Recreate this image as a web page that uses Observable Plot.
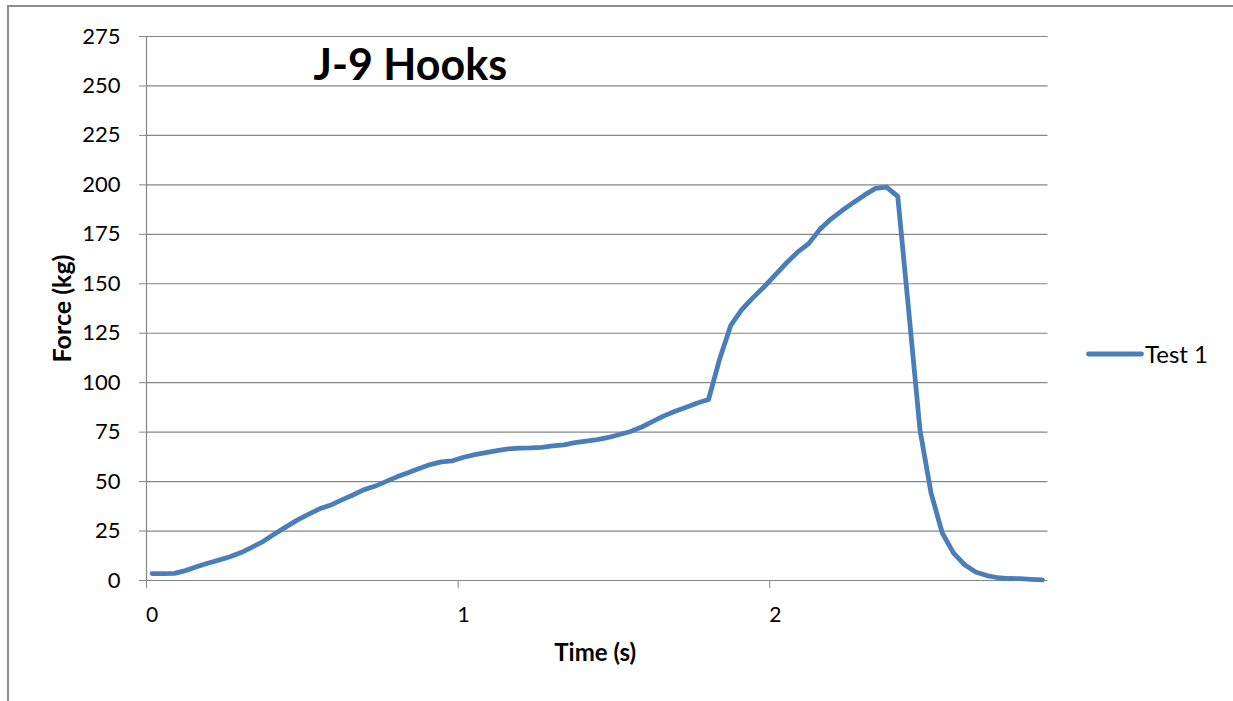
<!DOCTYPE html>
<html><head><meta charset="utf-8">
<script src="https://cdn.jsdelivr.net/npm/d3@7"></script>
<script src="https://cdn.jsdelivr.net/npm/@observablehq/plot@0.6"></script>
<style>
html,body{margin:0;padding:0;background:#fff;}
#wrap{position:relative;width:1233px;height:701px;overflow:hidden;font-family:Lato,"Open Sans",sans-serif;}
#border{position:absolute;left:7px;top:5px;width:1300px;height:800px;border-left:2px solid #8c8c8c;border-top:2px solid #8c8c8c;}
#chart{position:absolute;left:0;top:0;}
#legend{position:absolute;left:1086px;top:340px;display:flex;align-items:center;font-size:24px;color:#000;line-height:28px;}
#legend svg{margin-right:1px;}
</style></head><body>
<div id="wrap"><div id="border"></div><div id="chart"></div><div id="legend"></div></div>
<script>
// Force (kg) samples
const force = [
  3.5, 3.5, 3.6, 5.0, 6.9, 8.7, 10.3, 12.0, 14.1, 16.9,
  19.8, 23.5, 27.0, 30.4, 33.3, 36.1, 38.0, 40.6, 43.1, 45.8,
  47.6, 50.0, 52.4, 54.5, 56.6, 58.6, 60.0, 60.5, 62.3, 63.6,
  64.6, 65.7, 66.5, 66.9, 67.0, 67.3, 68.0, 68.6, 69.7, 70.5,
  71.2, 72.3, 73.8, 75.3, 77.6, 80.4, 83.2, 85.6, 87.6, 89.7,
  91.5, 112, 129, 137, 143, 148.5, 154.5, 160.5, 166, 170.3,
  177.5, 182.7, 187, 191, 194.8, 198.2, 198.9, 194.2, 135.5, 76,
  44, 24, 14, 8, 4.3, 2.5, 1.4, 1.0, 0.9, 0.6, 0.3
];
const sampleRate = 28;            // samples per second
const xTicks = [0, 1, 2];         // time tick labels (s)
const yTicks = [0, 25, 50, 75, 100, 125, 150, 175, 200, 225, 250, 275];
const seriesName = "Test 1";
const title = "J-9 Hooks";
const xLabel = "Time (s)";
const yLabel = "Force (kg)";

const data = force.map((f, i) => ({time: i / sampleRate, force: f}));
const half = 0.5 / sampleRate;
const tickMarks = xTicks.map(t => t - half);
const gridColor = "#868686";
const lineColor = "#4a7ebb";

const chart = Plot.plot({
  width: 1233, height: 701,
  marginLeft: 146, marginRight: 185.5, marginTop: 36, marginBottom: 121,
  style: {fontFamily: "Lato, 'Open Sans', sans-serif", fontSize: "21px", color: "#000", background: "transparent"},
  x: {domain: [-half, (force.length - 0.5) / sampleRate]},
  y: {domain: [0, 275]},
  marks: [
    Plot.gridY(yTicks, {stroke: gridColor, strokeOpacity: 1, strokeWidth: 1.2}),
    Plot.axisY(yTicks, {tickSize: 7, tickPadding: 19, stroke: gridColor, strokeOpacity: 1, label: null, fontSize: 22}),
    Plot.ruleX([-half], {stroke: gridColor, strokeWidth: 1.2}),
    Plot.axisX(tickMarks, {tickSize: 8, tickFormat: () => "", stroke: gridColor, strokeOpacity: 1, label: null}),
    Plot.axisX(xTicks, {tickSize: 0, tickPadding: 27, label: null, tickFormat: d => String(d), fontSize: 21}),
    Plot.line(data, {x: "time", y: "force", stroke: lineColor, strokeWidth: 4.8, strokeLinejoin: "round", strokeLinecap: "round"}),
    Plot.text([title], {frameAnchor: "top", dx: -187, dy: 43, lineAnchor: "bottom", fontSize: 43, fontWeight: "bold"}),
    Plot.text([yLabel], {frameAnchor: "left", textAnchor: "middle", rotate: -90, dx: -84, fontWeight: "bold", fontSize: 25}),
    Plot.text([xLabel], {frameAnchor: "bottom", textAnchor: "middle", dy: 80, dx: -2, fontWeight: "bold", fontSize: 24})
  ]
});
document.getElementById("chart").appendChild(chart);

const legend = document.getElementById("legend");
legend.innerHTML = `<svg width="58" height="10"><line x1="2.5" y1="5" x2="55.5" y2="5" stroke="${lineColor}" stroke-width="4.8" stroke-linecap="round"/></svg><span>${seriesName}</span>`;
</script>
</body></html>
